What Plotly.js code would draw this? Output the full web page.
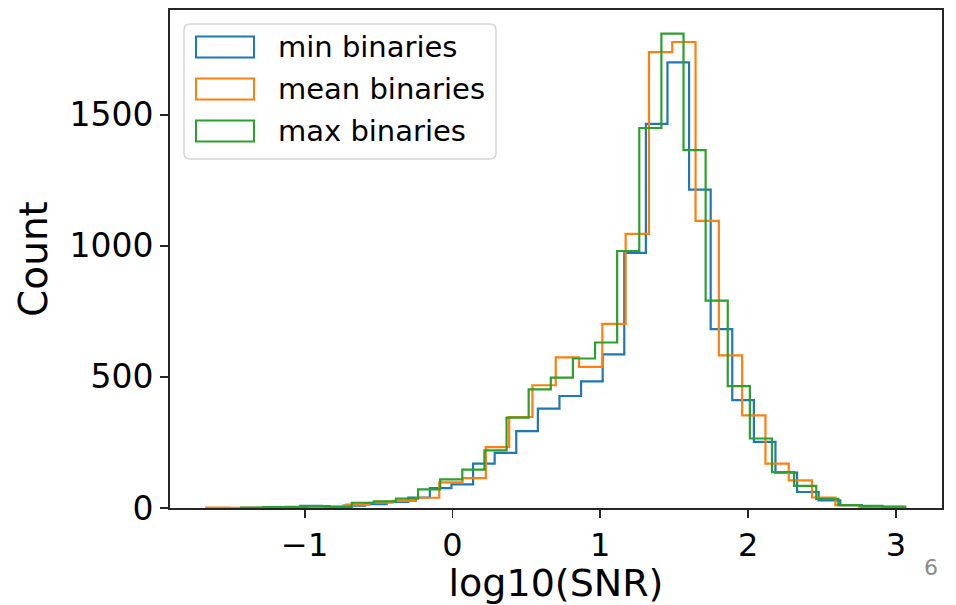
<!DOCTYPE html>
<html>
<head>
<meta charset="utf-8">
<script src="https://cdn.plot.ly/plotly-3.0.1.min.js"></script>
<style>html,body{margin:0;padding:0;background:#fff;}#chart{width:956px;height:605px;}</style>
</head>
<body>
<div id="chart"></div>
<script>
// Histogram data (30 bins each), bin edges given by start + width
const seriesNames = ["min binaries", "mean binaries", "max binaries"];
const minStart = -1.322, minWidth = 0.14614;
const minCounts = [1, 1, 8, 4, 9, 15, 23, 40, 76, 90, 169, 210, 293, 379, 427, 483, 586, 973, 1465, 1699, 1214, 682, 411, 252, 135, 61, 29, 11, 3, 1];
const meanStart = -1.666, meanWidth = 0.15765;
const meanCounts = [2, 1, 1, 2, 3, 6, 13, 20, 27, 39, 98, 114, 232, 347, 468, 574, 538, 702, 1045, 1738, 1777, 1095, 582, 353, 169, 105, 40, 11, 5, 4];
const maxStart = -1.430, maxWidth = 0.14966;
const maxCounts = [2, 3, 4, 7, 3, 20, 25, 36, 71, 109, 146, 220, 345, 452, 497, 570, 631, 980, 1449, 1809, 1365, 791, 465, 265, 137, 84, 35, 11, 8, 5];
const xTickVals = [-1, 0, 1, 2, 3];
const xTickText = ["\u22121", "0", "1", "2", "3"];
const yTickVals = [0, 500, 1000, 1500];
const colors = ["#1f77b4", "#ff7f0e", "#2ca02c"];

function stepPath(start, width, counts) {
  const xs = [start], ys = [0];
  counts.forEach((c, i) => {
    xs.push(start + i * width, start + (i + 1) * width);
    ys.push(c, c);
  });
  xs.push(start + counts.length * width); ys.push(0);
  return {x: xs, y: ys};
}

const specs = [[minStart, minWidth, minCounts], [meanStart, meanWidth, meanCounts], [maxStart, maxWidth, maxCounts]];
const traces = specs.map((s, i) => {
  const p = stepPath(s[0], s[1], s[2]);
  return {x: p.x, y: p.y, type: "scatter", mode: "lines", name: seriesNames[i],
          line: {color: colors[i], width: 2.2}, showlegend: false, hoverinfo: "x+y"};
});

// custom matplotlib-like legend (paper coords)
const W = 772, H = 498;
const px = v => (v - 170) / W;
const py = v => (508 - v) / H;
const shapes = [];
const annotations = [];
const bx0 = px(184), bx1 = px(496), by0 = py(159), by1 = py(24);
const rx = 6 / W, ry = 6 / H;
shapes.push({type: "path", xref: "paper", yref: "paper",
  path: `M ${bx0+rx},${by0} L ${bx1-rx},${by0} Q ${bx1},${by0} ${bx1},${by0+ry} L ${bx1},${by1-ry} Q ${bx1},${by1} ${bx1-rx},${by1} L ${bx0+rx},${by1} Q ${bx0},${by1} ${bx0},${by1-ry} L ${bx0},${by0+ry} Q ${bx0},${by0} ${bx0+rx},${by0} Z`,
  line: {color: "#d5d5d5", width: 1.5}, fillcolor: "rgba(255,255,255,0.8)", layer: "above"});
const rows = [47, 89, 131];
seriesNames.forEach((n, i) => {
  shapes.push({type: "rect", xref: "paper", yref: "paper", x0: px(196), x1: px(254), y0: py(rows[i] + 10.5), y1: py(rows[i] - 10.5),
    line: {color: colors[i], width: 2}, fillcolor: "rgba(0,0,0,0)", layer: "above"});
  annotations.push({xref: "paper", yref: "paper", x: px(276), y: py(rows[i]), xanchor: "left", yanchor: "middle",
    text: n, showarrow: false, font: {family: "DejaVu Sans", size: 29, color: "#000"}});
});
annotations.push({xref: "paper", yref: "paper", x: px(931), y: py(567), xanchor: "center", yanchor: "middle",
  text: "6", showarrow: false, font: {family: "DejaVu Sans", size: 22, color: "#8a8a8a"}});

const layout = {
  width: 956, height: 605,
  margin: {l: 170, r: 14, t: 10, b: 97, pad: 0},
  paper_bgcolor: "#fff", plot_bgcolor: "#fff",
  font: {family: "DejaVu Sans", color: "#000"},
  xaxis: {range: [-1.911, 3.312], tickvals: xTickVals, ticktext: xTickText, showgrid: false, zeroline: false,
    showline: true, mirror: true, linecolor: "#262626", linewidth: 1.8, ticks: "outside", ticklen: 8, tickwidth: 1.8, tickcolor: "#262626",
    tickfont: {family: "DejaVu Sans", size: 32, color: "#000"},
    title: {text: "log10(SNR)", font: {family: "DejaVu Sans", size: 38, color: "#000"}, standoff: 8}},
  yaxis: {range: [0, 1899], tickvals: yTickVals, showgrid: false, zeroline: false,
    showline: true, mirror: true, linecolor: "#262626", linewidth: 1.8, ticks: "outside", ticklen: 8, tickwidth: 1.8, tickcolor: "#262626",
    tickfont: {family: "DejaVu Sans", size: 33, color: "#000"},
    title: {text: "Count", font: {family: "DejaVu Sans", size: 39, color: "#000"}, standoff: 10}},
  shapes: shapes, annotations: annotations, showlegend: false
};
Plotly.newPlot("chart", traces, layout, {displayModeBar: false, staticPlot: true});
</script>
</body>
</html>
